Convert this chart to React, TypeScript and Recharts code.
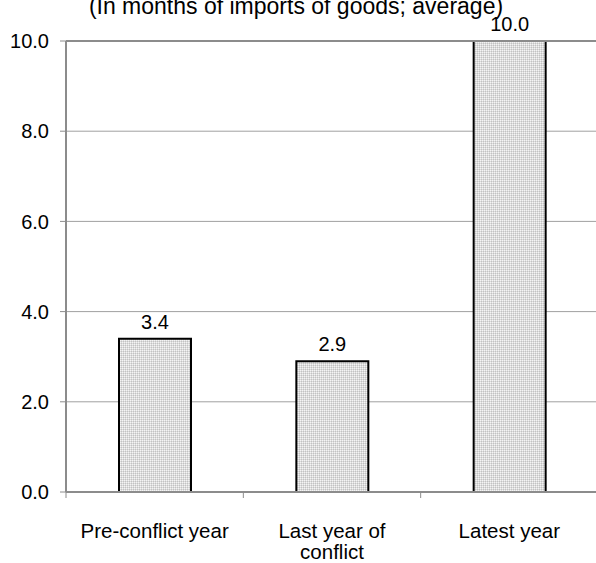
import React from 'react'
import {
  BarChart, Bar, XAxis, YAxis, CartesianGrid, LabelList, ReferenceLine,
} from 'recharts'

const categories = ['Pre-conflict year', 'Last year of conflict', 'Latest year']
const tickLines = [['Pre-conflict year'], ['Last year of', 'conflict'], ['Latest year']]
const reserves = [3.4, 2.9, 10.0]
const yTicks = [0, 2, 4, 6, 8, 10]
const title = '(In months of imports of goods; average)'

const data = categories.map((name, i) => ({ name, value: reserves[i] }))

const W = 600
const H = 563
const margin = { top: 41, right: 2, left: 0, bottom: 0 }
const yAxisWidth = 66
const xAxisHeight = 71
const band = (W - margin.left - margin.right - yAxisWidth) / categories.length
const font = '"Liberation Sans", Arial, sans-serif'
const axisGray = '#8c8c8c'

const fmt = (v: number) => Number(v).toFixed(1)

// excel-style: tick marks sit on category boundaries, labels centred
const CategoryTick = ({ x, y, payload, index }: any) => {
  const lines = tickLines[index] ?? [payload.value]
  return (
    <g>
      <line x1={x - band / 2} x2={x - band / 2} y1={y - 6} y2={y} stroke={axisGray} strokeWidth={1} />
      <text x={x} y={y + 40} textAnchor="middle" fontSize={20.5} fontFamily={font} fill="#000">
        {lines.map((l: string, i: number) => (
          <tspan key={i} x={x} dy={i === 0 ? 0 : 21}>{l}</tspan>
        ))}
      </text>
    </g>
  )
}

export default function App() {
  return (
    <div style={{ position: 'absolute', left: 0, top: 0, width: 596, height: 563, overflow: 'hidden', background: '#fff' }}>
      <div
        style={{
          position: 'absolute', top: -6, left: 0, width: 592, textAlign: 'center',
          fontFamily: font, fontSize: 23, lineHeight: '24px', color: '#000', whiteSpace: 'nowrap',
        }}
      >
        {title}
      </div>
      <BarChart width={W} height={H} data={data} margin={margin}>
        <defs>
          <pattern id="stipple" width="2" height="2" patternUnits="userSpaceOnUse">
            <rect width="2" height="2" fill="#dcdcdc" />
            <rect width="1" height="1" fill="#f4f4f4" />
            <rect x="1" y="1" width="1" height="1" fill="#c2c2c2" />
          </pattern>
        </defs>
        <CartesianGrid vertical={false} stroke="#a0a0a0" strokeWidth={1} />
        <ReferenceLine y={yTicks[yTicks.length - 1]} stroke={axisGray} strokeWidth={2} />
        <XAxis
          dataKey="name"
          height={xAxisHeight}
          axisLine={{ stroke: axisGray, strokeWidth: 2 }}
          tickLine={false}
          tickSize={6}
          tickMargin={0}
          interval={0}
          tick={<CategoryTick />}
        />
        <YAxis
          width={yAxisWidth}
          domain={[0, 10]}
          ticks={yTicks}
          tickFormatter={fmt}
          axisLine={{ stroke: axisGray, strokeWidth: 2 }}
          tickLine={{ stroke: axisGray }}
          tickSize={6}
          tickMargin={11}
          tick={{ fill: '#000', fontSize: 20, fontFamily: font }}
        />
        <Bar dataKey="value" fill="url(#stipple)" stroke="#000" strokeWidth={2} barSize={72} isAnimationActive={false}>
          <LabelList dataKey="value" position="top" offset={10} formatter={fmt} fill="#000" fontSize={20} fontFamily={font} />
        </Bar>
      </BarChart>
    </div>
  )
}
